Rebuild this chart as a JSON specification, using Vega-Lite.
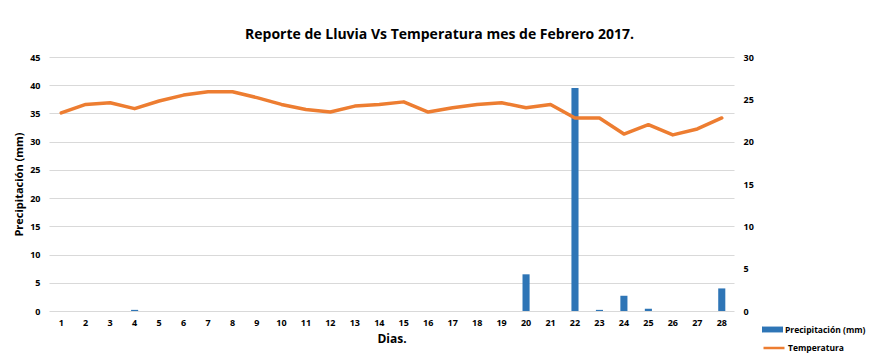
{
  "$schema": "https://vega.github.io/schema/vega-lite/v6.json",
  "autosize": "none",
  "width": 685,
  "height": 254,
  "padding": {"left": 49, "top": 57, "right": 136, "bottom": 52},
  "background": "white",
  "title": {
    "text": "Reporte de Lluvia Vs Temperatura mes de Febrero 2017.",
    "font": "Open Sans",
    "fontSize": 14,
    "fontWeight": "bold",
    "color": "#000000",
    "anchor": "middle",
    "dx": 48,
    "offset": 11
  },
  "data": {
    "values": [
      {"dia": 1, "precipitacion": 0, "temperatura": 23.4},
      {"dia": 2, "precipitacion": 0, "temperatura": 24.4},
      {"dia": 3, "precipitacion": 0, "temperatura": 24.6},
      {"dia": 4, "precipitacion": 0.2, "temperatura": 23.9},
      {"dia": 5, "precipitacion": 0, "temperatura": 24.8},
      {"dia": 6, "precipitacion": 0, "temperatura": 25.5},
      {"dia": 7, "precipitacion": 0, "temperatura": 25.9},
      {"dia": 8, "precipitacion": 0, "temperatura": 25.9},
      {"dia": 9, "precipitacion": 0, "temperatura": 25.2},
      {"dia": 10, "precipitacion": 0, "temperatura": 24.4},
      {"dia": 11, "precipitacion": 0, "temperatura": 23.8},
      {"dia": 12, "precipitacion": 0, "temperatura": 23.5},
      {"dia": 13, "precipitacion": 0, "temperatura": 24.2},
      {"dia": 14, "precipitacion": 0, "temperatura": 24.4},
      {"dia": 15, "precipitacion": 0, "temperatura": 24.7},
      {"dia": 16, "precipitacion": 0, "temperatura": 23.5},
      {"dia": 17, "precipitacion": 0, "temperatura": 24.0},
      {"dia": 18, "precipitacion": 0, "temperatura": 24.4},
      {"dia": 19, "precipitacion": 0, "temperatura": 24.6},
      {"dia": 20, "precipitacion": 6.5, "temperatura": 24.0},
      {"dia": 21, "precipitacion": 0, "temperatura": 24.4},
      {"dia": 22, "precipitacion": 39.5, "temperatura": 22.8},
      {"dia": 23, "precipitacion": 0.2, "temperatura": 22.8},
      {"dia": 24, "precipitacion": 2.7, "temperatura": 20.9},
      {"dia": 25, "precipitacion": 0.4, "temperatura": 22.0},
      {"dia": 26, "precipitacion": 0, "temperatura": 20.8},
      {"dia": 27, "precipitacion": 0, "temperatura": 21.5},
      {"dia": 28, "precipitacion": 4.0, "temperatura": 22.8}
    ]
  },
  "encoding": {
    "x": {
      "field": "dia",
      "type": "ordinal",
      "scale": {"paddingInner": 0.71, "paddingOuter": 0.355},
      "axis": {
        "title": "Dias.",
        "titleFont": "Open Sans",
        "titleFontSize": 12,
        "titleFontWeight": "bold",
        "titleColor": "#000000",
        "titlePadding": 6,
        "labelAngle": 0,
        "labelFont": "Open Sans",
        "labelFontSize": 9,
        "labelFontWeight": "bold",
        "labelColor": "#000000",
        "labelPadding": 7,
        "domain": false,
        "ticks": false,
        "grid": false
      }
    }
  },
  "layer": [
    {
      "mark": {"type": "bar", "color": "#2E75B6"},
      "encoding": {
        "y": {
          "field": "precipitacion",
          "type": "quantitative",
          "scale": {"domain": [0, 45]},
          "axis": {
            "title": "Precipitación (mm)",
            "titleFont": "Open Sans",
            "titleFontSize": 11,
            "titleFontWeight": "bold",
            "titleColor": "#000000",
            "titlePadding": 5,
            "values": [0, 5, 10, 15, 20, 25, 30, 35, 40, 45],
            "labelFont": "Open Sans",
            "labelFontSize": 9,
            "labelFontWeight": "bold",
            "labelColor": "#000000",
            "labelPadding": 9,
            "domain": false,
            "ticks": false,
            "grid": true,
            "gridColor": "#D9D9D9",
            "gridWidth": 1
          }
        },
        "fill": {
          "datum": "Precipitación (mm)",
          "type": "nominal",
          "scale": {"range": ["#2E75B6"]},
          "legend": {
            "title": null,
            "orient": "none",
            "legendX": 713,
            "legendY": 262,
            "symbolType": "M-1,-0.28H1V0.28H-1Z",
            "symbolSize": 441,
            "symbolStrokeWidth": 0,
            "labelFont": "Open Sans",
            "labelFontSize": 8.5,
            "labelFontWeight": "bold",
            "labelColor": "#000000",
            "labelOffset": 2
          }
        }
      }
    },
    {
      "mark": {"type": "line", "strokeWidth": 3.5, "strokeCap": "round", "strokeJoin": "round"},
      "encoding": {
        "y": {
          "field": "temperatura",
          "type": "quantitative",
          "scale": {"domain": [0, 30]},
          "axis": {
            "title": null,
            "orient": "right",
            "values": [0, 5, 10, 15, 20, 25, 30],
            "labelFont": "Open Sans",
            "labelFontSize": 9,
            "labelFontWeight": "bold",
            "labelColor": "#000000",
            "labelPadding": 9,
            "domain": false,
            "ticks": false,
            "grid": false
          }
        },
        "stroke": {
          "datum": "Temperatura",
          "type": "nominal",
          "scale": {"range": ["#ED7D31"]},
          "legend": {
            "title": null,
            "orient": "none",
            "legendX": 713,
            "legendY": 279,
            "symbolType": "stroke",
            "symbolSize": 441,
            "symbolStrokeWidth": 2.5,
            "labelFont": "Open Sans",
            "labelFontSize": 8.5,
            "labelFontWeight": "bold",
            "labelColor": "#000000",
            "labelOffset": 2
          }
        }
      }
    }
  ],
  "resolve": {"scale": {"y": "independent"}},
  "config": {"view": {"stroke": null}}
}
